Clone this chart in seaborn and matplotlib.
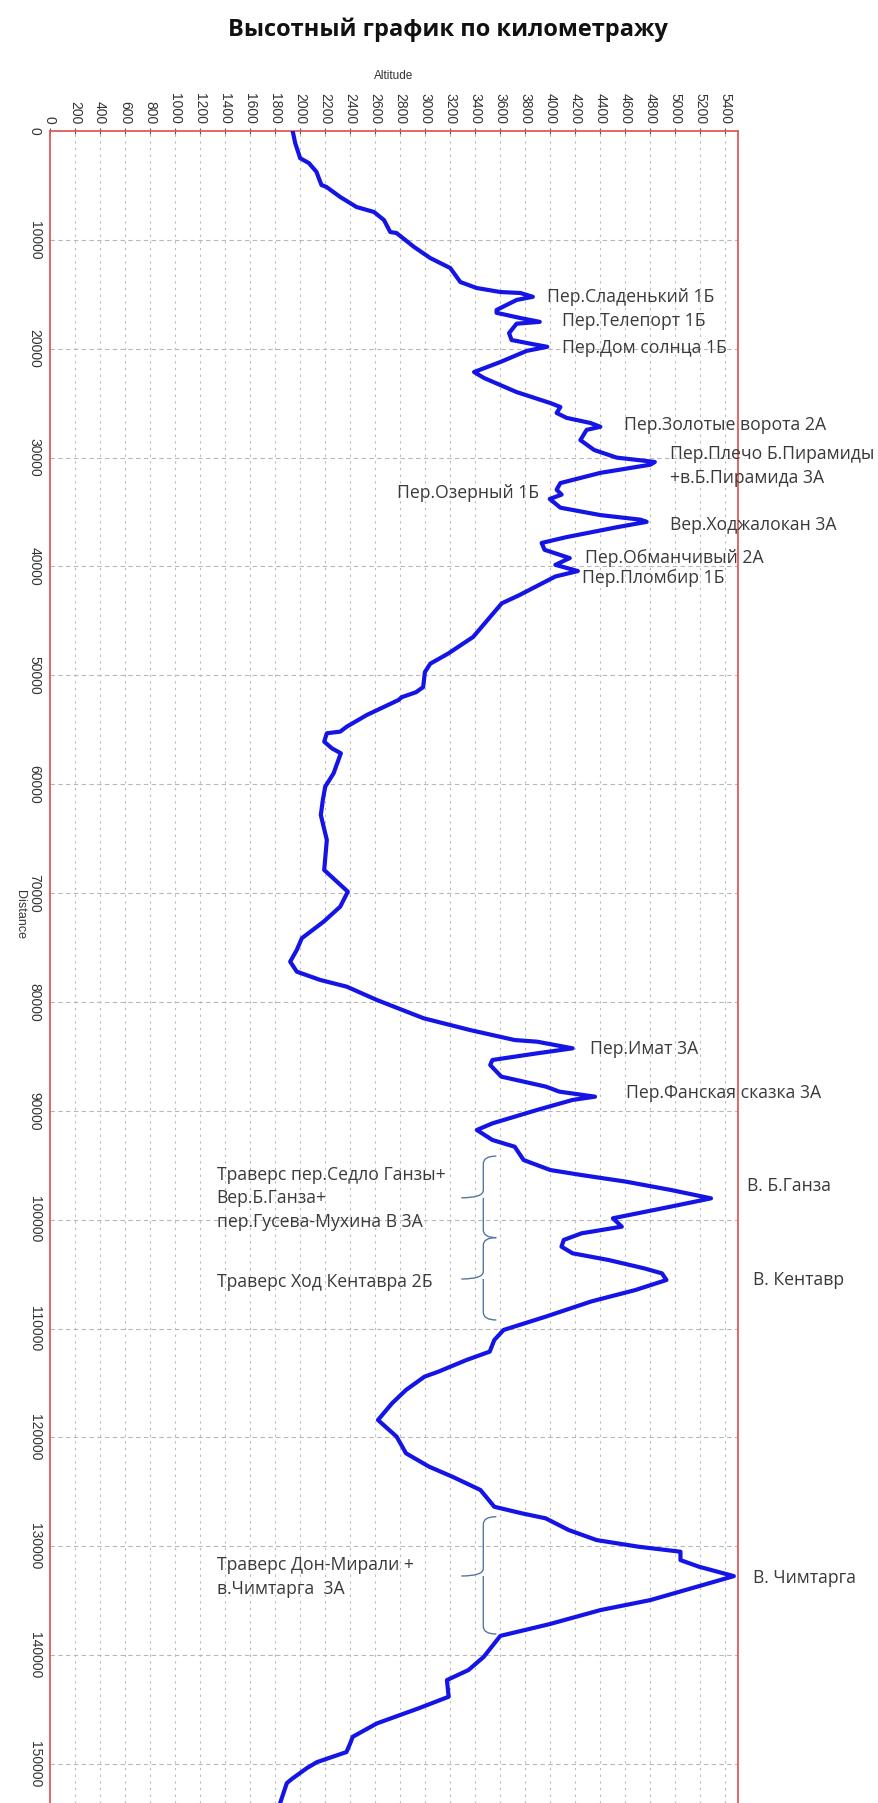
import numpy as np
import pandas as pd
import seaborn as sns
import matplotlib
matplotlib.use("Agg")
import matplotlib.pyplot as plt
from matplotlib.path import Path
from matplotlib.patches import PathPatch

# ---------------- data ----------------
distance = [0, 1100, 2500, 2950, 3750, 4960, 5140, 6060, 6980, 7440, 8180, 9280, 9370,
            10650, 11670, 12590, 13870, 14420, 14790, 14880, 15230, 15520, 16440, 16700,
            17180, 17530, 17700, 18560, 19200, 19600, 19820, 20200, 21220, 22140, 22690,
            23980, 24990, 25350, 25900, 26350, 26820, 27170, 27450, 28390, 29300, 30000,
            30400, 30650, 31400, 32340, 32950, 33400, 33800, 34600, 35280, 35700, 35900,
            36400, 37300, 37840, 38470, 39230, 39850, 40420, 40920, 42620, 43390, 44930,
            46470, 48000, 48930, 49700, 51080, 51550, 52010, 52260, 53640, 54710, 55170,
            55320, 56090, 56700, 57160, 59000, 60230, 61450, 62830, 65120, 67880, 68950,
            69870, 71250, 72630, 74150, 75220, 76300, 77220, 77980, 78600, 79820, 81500,
            82580, 83500, 83650, 84260, 84720, 85330,
            85790, 86860, 87780, 88240, 88700, 89000, 89920, 91150, 91760, 92680, 93300,
            94520, 95440, 95900, 96510, 97270, 98040, 98800, 99870, 100640, 101250, 101860,
            102480, 103090, 103700, 104470, 104930, 105540, 106460, 107500, 108910, 110130,
            111050, 112120, 112890, 113960, 114420, 115640, 116870, 118400, 119930, 121460,
            122690, 123610, 124830, 126370, 126980, 127430, 128510, 129430, 130040, 130500,
            131270, 131880, 132740, 133410, 134940, 135860, 137160, 138230, 140160, 141370,
            142290, 143820, 144870, 145490, 146270, 147500, 148100, 148900, 149830, 150380,
            151400, 151760, 153580]
altitude = [1940, 1960, 2000, 2070, 2130, 2170, 2210, 2320, 2450, 2590, 2670, 2720, 2770,
            2910, 3040, 3200, 3280, 3410, 3600, 3760, 3860, 3730, 3570, 3570,
            3760, 3915, 3730, 3670, 3690, 3870, 3975, 3810, 3600, 3390, 3470,
            3730, 4000, 4080, 4050, 4130, 4320, 4400, 4290, 4240, 4350, 4530,
            4835, 4800, 4400, 4080, 4050, 4090, 3995, 4080, 4400, 4720, 4770,
            4530, 4130, 3930, 3954, 4155, 4040, 4220, 4040, 3754, 3611, 3497,
            3383, 3183, 3040, 2997, 2983, 2926, 2811, 2787, 2533, 2373, 2320,
            2213, 2192, 2253, 2325, 2267, 2200, 2181, 2165, 2213, 2192, 2293,
            2381, 2320, 2187, 2013, 1973, 1920, 1973, 2160, 2373, 2613, 2987,
            3358, 3715, 3894, 4178, 3894, 3537,
            3519, 3608, 3965, 4072, 4357, 4178, 3894, 3537, 3412, 3537, 3715,
            3786, 4000, 4250, 4606, 4963, 5284, 4963, 4500, 4571, 4250, 4107,
            4089, 4178, 4464, 4750, 4892, 4928, 4680, 4330, 3962, 3626,
            3552, 3515, 3329, 3105, 2994, 2846, 2734, 2622, 2771, 2846,
            3031, 3217, 3441, 3552, 3775, 3962, 4147, 4370, 4705, 5040,
            5040, 5189, 5467, 5263, 4800, 4400, 3990, 3600, 3467, 3345,
            3173, 3187, 2950, 2800, 2613, 2420, 2400, 2370, 2133, 2053,
            1930, 1893, 1840]

label_texts = ["Пер.Сладенький 1Б", "Пер.Телепорт 1Б", "Пер.Дом солнца 1Б",
               "Пер.Золотые ворота 2А", "Пер.Плечо Б.Пирамиды\n+в.Б.Пирамида 3А",
               "Пер.Озерный 1Б", "Вер.Ходжалокан 3А", "Пер.Обманчивый 2А",
               "Пер.Пломбир 1Б", "Пер.Имат 3А", "Пер.Фанская сказка 3А",
               "В. Б.Ганза", "В. Кентавр",
               "Траверс пер.Седло Ганзы+\nВер.Б.Ганза+\nпер.Гусева-Мухина В 3А",
               "Траверс Ход Кентавра 2Б", "Траверс Дон-Мирали +\nв.Чимтарга  3А",
               "В. Чимтарга"]
label_alt = [3974, 4094, 4094, 4586, 4960, 2774, 4960, 4280, 4254, 4320, 4606,
             5570, 5623, 1333, 1333, 1332, 5616]
label_dist = [15210, 17440, 19900, 27000, 30790, 33270, 36180, 39240, 41080, 84320,
              88330, 96900, 105540, 98030, 105700, 132820, 132900]

# braces: altitude of spine, start, cusp, end (distance)
brace_alt = [3464, 3464, 3464]
brace_start = [94160, 101650, 127280]
brace_cusp = [97990, 105450, 132730]
brace_end = [101650, 109210, 138060]

alt_ticks = list(range(0, 5401, 200))
dist_ticks = list(range(0, 150001, 10000))

# ---------------- style ----------------
sns.set_style("white")
plt.rcParams['font.family'] = ['Liberation Sans', 'DejaVu Sans']

W, H = 879, 1803
fig = plt.figure(figsize=(W / 100, H / 100), dpi=100)
ax_left, ax_right, ax_top = 50 / W, 738 / W, 131 / H
ax = fig.add_axes([ax_left, 0, ax_right - ax_left, 1 - ax_top])

df = pd.DataFrame({"Altitude": altitude, "Distance": distance})
sns.lineplot(data=df, x="Altitude", y="Distance", sort=False, estimator=None,
             color="#1414e6", linewidth=3.0, ax=ax, zorder=3)

ax.set_xlim(0, 5500)
ax.set_ylim(153580, 0)

# axes on top
ax.xaxis.tick_top()
ax.xaxis.set_label_position("top")
ax.set_xticks(alt_ticks)
ax.set_xticklabels([str(t) for t in alt_ticks], rotation=-90, fontsize=10, color="#333333")
ax.set_yticks(dist_ticks)
ax.set_yticklabels([str(t) for t in dist_ticks], rotation=-90, fontsize=10, color="#333333",
                   va="center")
ax.tick_params(axis="x", direction="inout", length=4, width=0.8, color="#555555", pad=3)
ax.tick_params(axis="y", direction="inout", length=4, width=0.8, color="#555555", pad=4)

ax.set_xlabel("Altitude", fontsize=8.5, color="#333333")
ax.xaxis.set_label_coords(0.5, 1 + 55 / 1672)
ax.xaxis.label.set_va("center")
ax.set_ylabel("Distance", fontsize=9, color="#333333", rotation=-90)
ax.yaxis.set_label_coords(-30 / 688, 1 - (915 - 131) / 1672)
ax.yaxis.label.set_va("center")
ax.yaxis.label.set_ha("center")

# grid
for t in alt_ticks[1:]:
    ax.axvline(t, color="#b8b8b8", lw=0.8, ls=(0, (2, 4)), zorder=1)
for t in dist_ticks[1:]:
    ax.axhline(t, color="#b8b8b8", lw=0.8, ls=(0, (4, 3)), zorder=1)

for s in ["left", "top", "right"]:
    ax.spines[s].set_color("#e05a5a")
    ax.spines[s].set_linewidth(1.3)
    ax.spines[s].set_visible(True)
ax.spines["bottom"].set_visible(False)

# annotations
for txt, a, d in zip(label_texts, label_alt, label_dist):
    ax.text(a, d, txt, fontsize=12.7, family=["Open Sans", "DejaVu Sans"], color="#3a3a3a",
            ha="left", va="center", linespacing=1.4, zorder=4, clip_on=False)

# braces "{"
dx_curl = 104     # altitude units
dx_tip = 176
for a, s, c, e in zip(brace_alt, brace_start, brace_cusp, brace_end):
    r = 700
    verts = [(a + dx_curl, s), (a, s), (a, s + r),
             (a, c - r), (a, c), (a - dx_tip, c),
             (a, c), (a, c + r),
             (a, e - r), (a, e), (a + dx_curl, e)]
    codes = [Path.MOVETO, Path.CURVE3, Path.CURVE3,
             Path.LINETO, Path.CURVE3, Path.CURVE3,
             Path.MOVETO, Path.LINETO,
             Path.LINETO, Path.CURVE3, Path.CURVE3]
    ax.add_patch(PathPatch(Path(verts, codes), fill=False, edgecolor="#5577a0", lw=1.0, zorder=2))

fig.text(448 / W, 1 - 30 / H, "Высотный график по километражу", fontsize=17,
         fontweight="bold", family=["Open Sans", "DejaVu Sans"], color="#111111",
         ha="center", va="center")

fig.savefig("out.png", dpi=100)
